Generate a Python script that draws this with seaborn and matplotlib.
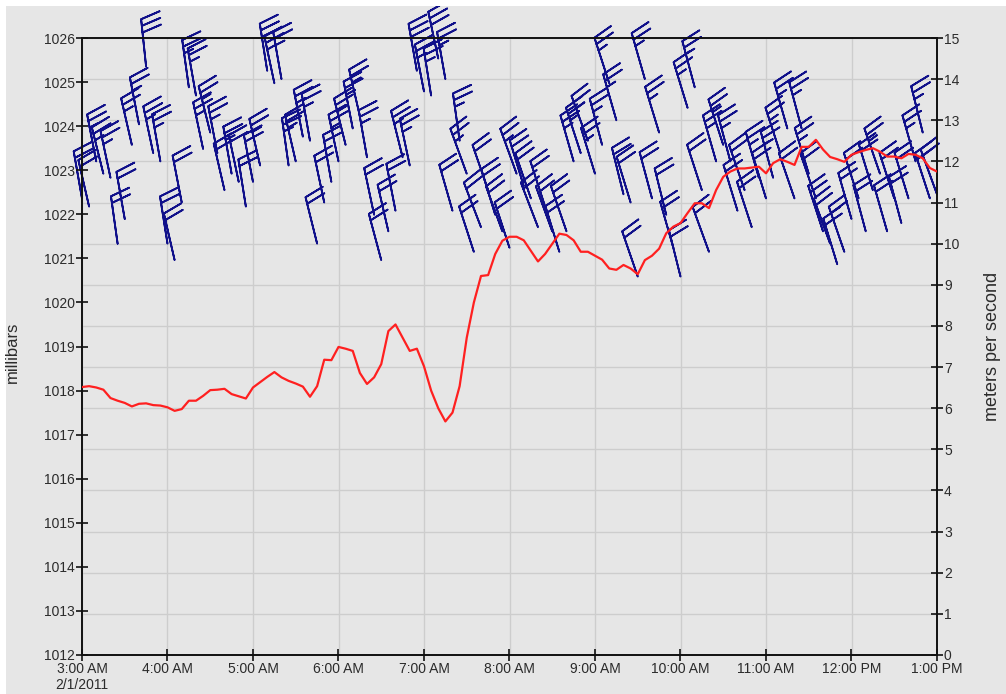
import numpy as np
import pandas as pd
import matplotlib
matplotlib.use("Agg")
import matplotlib.pyplot as plt
import matplotlib.dates as mdates
from matplotlib.ticker import FuncFormatter, MultipleLocator
from matplotlib.patches import Rectangle
import seaborn as sns

# Observation window, sampled every 5 minutes
START = "2011-02-01 03:00"
END = "2011-02-01 13:00"

# Station pressure (millibars)
pressure_mb = [
    1018.08, 1018.10, 1018.07, 1018.02, 1017.83, 1017.77, 1017.72, 1017.64, 1017.70, 1017.71, 1017.67, 1017.66,
    1017.62, 1017.54, 1017.58, 1017.77, 1017.77, 1017.88, 1018.01, 1018.02, 1018.04, 1017.92, 1017.87, 1017.82,
    1018.07, 1018.19, 1018.31, 1018.42, 1018.30, 1018.22, 1018.16, 1018.09, 1017.86, 1018.10, 1018.70, 1018.69,
    1018.99, 1018.95, 1018.90, 1018.40, 1018.15, 1018.30, 1018.60, 1019.35, 1019.50, 1019.20, 1018.90, 1018.95,
    1018.55, 1018.00, 1017.60, 1017.30, 1017.50, 1018.10, 1019.20, 1020.00, 1020.60, 1020.62, 1021.10, 1021.40,
    1021.49, 1021.49, 1021.41, 1021.17, 1020.93, 1021.10, 1021.33, 1021.56, 1021.53, 1021.41, 1021.15, 1021.15,
    1021.06, 1020.97, 1020.77, 1020.74, 1020.85, 1020.77, 1020.64, 1020.96, 1021.06, 1021.22, 1021.57, 1021.72,
    1021.80, 1022.03, 1022.25, 1022.25, 1022.14, 1022.55, 1022.85, 1022.97, 1023.04, 1023.04, 1023.06, 1023.08,
    1022.93, 1023.16, 1023.25, 1023.19, 1023.12, 1023.53, 1023.53, 1023.69, 1023.47, 1023.30, 1023.25, 1023.19,
    1023.35, 1023.41, 1023.46, 1023.50, 1023.42, 1023.31, 1023.31, 1023.27, 1023.37, 1023.35, 1023.27, 1023.05,
    1022.97,
]

# Wind speed (meters per second)
wind_speed_ms = [
    11.1, 10.9, 12.0, 11.7, 11.6, 10.0, 10.6, 12.4, 12.9, 14.3, 12.2, 12.0,
    10.0, 9.6, 11.0, 13.8, 13.6, 12.3, 12.7, 12.2, 11.3, 11.7, 11.5, 10.9,
    11.5, 11.9, 14.2, 13.9, 14.0, 11.9, 12.0, 12.6, 12.5, 10.0, 11.0, 11.5,
    12.0, 12.4, 12.8, 13.1, 12.1, 10.7, 9.6, 10.3, 10.8, 12.1, 11.9, 14.2,
    13.7, 13.6, 14.5, 14.0, 10.8, 12.5, 11.7, 9.8, 10.4, 11.3, 10.7, 10.3,
    9.9, 11.7, 11.4, 11.1, 10.4, 10.9, 10.3, 9.8, 10.3, 12.0, 12.2, 12.5,
    11.7, 12.4, 13.9, 13.0, 11.2, 11.0, 9.2, 14.0, 11.1, 12.7, 10.7, 9.9,
    9.2, 13.3, 13.8, 11.3, 9.8, 12.0, 12.4, 12.0, 10.8, 11.3, 10.4, 11.6,
    11.1, 11.6, 12.2, 12.8, 11.1, 12.8, 11.7, 11.1, 10.3, 10.0, 9.5, 9.8,
    10.6, 11.1, 10.3, 11.3, 11.7, 10.3, 11.1, 10.5, 11.1, 12.0, 12.7, 11.1,
    11.2,
]

# Direction the wind blows from (degrees clockwise from north)
wind_dir_deg = [
    350, 347, 349, 346, 348, 352, 350, 347, 349, 354, 348, 350,
    351, 347, 349, 352, 350, 348, 346, 349, 347, 350, 348, 351,
    349, 347, 351, 348, 350, 352, 347, 349, 350, 346, 348, 350,
    348, 346, 349, 347, 350, 348, 345, 347, 349, 346, 348, 350,
    349, 351, 348, 350, 344, 352, 340, 342, 339, 341, 343, 340,
    342, 340, 343, 341, 339, 342, 340, 343, 341, 344, 342, 340,
    343, 345, 342, 344, 346, 343, 341, 344, 345, 343, 346, 344,
    346, 343, 345, 342, 340, 344, 342, 345, 343, 341, 342, 344,
    343, 345, 342, 344, 341, 345, 343, 341, 342, 340, 343, 341,
    344, 342, 345, 343, 341, 344, 342, 345, 343, 344, 346, 342,
    340,
]

times = pd.date_range(START, END, freq="5min")
obs = pd.DataFrame({
    "time": times,
    "pressure": pressure_mb,
    "speed": wind_speed_ms,
    "direction": wind_dir_deg,
})

BG = "#e6e6e6"
GRID = "#cdcdcd"
TEXT = "#2b2b2b"

sns.set_theme(style="white", rc={"axes.facecolor": BG, "figure.facecolor": BG})
plt.rcParams["font.family"] = ["Liberation Sans", "DejaVu Sans"]

W, H = 1006, 694
fig = plt.figure(figsize=(W / 100, H / 100), dpi=100, facecolor=BG)
# thin white border along the top and left edges
fig.patches.append(Rectangle((0, 1 - 6 / H), 1, 6 / H, transform=fig.transFigure,
                             facecolor="white", edgecolor="none", zorder=0))
fig.patches.append(Rectangle((0, 0), 6 / W, 1, transform=fig.transFigure,
                             facecolor="white", edgecolor="none", zorder=0))

left, right, top, bottom = 82, 937, 38, 655
ax = fig.add_axes([left / W, 1 - bottom / H, (right - left) / W, (bottom - top) / H])
ax2 = ax.twinx()
ax.set_zorder(ax2.get_zorder() + 1)
ax.patch.set_visible(False)

# Pressure trace on the left axis
sns.lineplot(data=obs, x="time", y="pressure", ax=ax, color="#ff2020",
             linewidth=1.6, zorder=5)

t0 = mdates.date2num(pd.Timestamp(START))
t1 = mdates.date2num(pd.Timestamp(END))
ax.set_xlim(t0, t1)
ax.set_ylim(1012, 1026)
ax.yaxis.set_major_locator(MultipleLocator(1))
ax.xaxis.set_major_locator(mdates.HourLocator())


def time_label(x, pos):
    dt = mdates.num2date(x)
    s = dt.strftime("%I:%M %p").lstrip("0")
    if abs(x - t0) < 1e-6:
        s += f"\n{dt.month}/{dt.day}/{dt.year}"
    return s


ax.xaxis.set_major_formatter(FuncFormatter(time_label))
ax.set_xlabel("")
ax.set_ylabel("millibars", fontsize=12, color=TEXT)
ax.yaxis.set_label_coords(-0.0725, 0.49)

# Wind barbs on the right axis, speed in m/s, barbs drawn in knots
kt = obs["speed"].to_numpy() * 1.943844
rad = np.deg2rad(obs["direction"].to_numpy())
u = -kt * np.sin(rad)
v = -kt * np.cos(rad)
xnum = mdates.date2num(obs["time"])
ax2.barbs(xnum, obs["speed"], u, v, length=8.3, pivot="tip",
          barbcolor="#10108a", flagcolor="#10108a", linewidth=1.3,
          sizes=dict(spacing=0.14, height=0.4, width=0.25),
          clip_on=False, zorder=3)
ax2.set_ylim(0, 15)
ax2.yaxis.set_major_locator(MultipleLocator(1))
ax2.set_ylabel("meters per second", fontsize=13, color=TEXT)
ax2.yaxis.set_label_coords(1.055, 0.5)

# Grid lives on the lower (wind) axes so it stays beneath the barbs
ax2.xaxis.set_visible(True)
ax2.tick_params(axis="x", which="both", bottom=False, top=False,
                labelbottom=False, labeltop=False)
ax2.grid(True, axis="both", color=GRID, linewidth=1.0)
ax2.set_axisbelow(True)
ax.grid(False)

for sp in ax2.spines.values():
    sp.set_visible(False)
for sp in ax.spines.values():
    sp.set_visible(True)
    sp.set_color("#111111")
    sp.set_linewidth(1.4)

ax.tick_params(axis="y", direction="inout", length=8, width=1.2, color="#111111",
               labelsize=10, labelcolor=TEXT, pad=1, left=True, right=False)
ax.tick_params(axis="x", direction="inout", length=8, width=1.2, color="#111111",
               labelsize=10, labelcolor=TEXT, pad=1, bottom=True)
ax2.tick_params(axis="y", direction="inout", length=8, width=1.2, color="#111111",
                labelsize=10, labelcolor=TEXT, pad=1, right=True, left=False)

fig.savefig("out.png", dpi=100, facecolor=BG)
